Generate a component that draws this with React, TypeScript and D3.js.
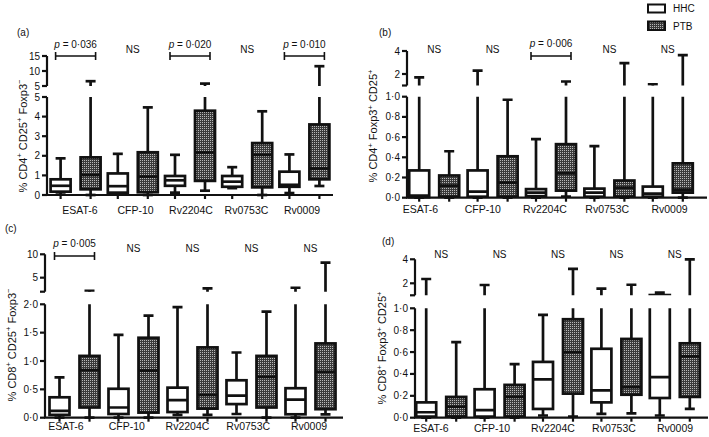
import React from "react";
import * as d3 from "d3";

const categories = ["ESAT-6", "CFP-10", "Rv2204C", "Rv0753C", "Rv0009"];
const groups = ["HHC", "PTB"];

// box stats: [min, q1, median, q3, max]
const hhcA = [[0.02, 0.17, 0.47, 0.8, 1.87], [0.02, 0.12, 0.45, 1.1, 2.1], [0.12, 0.47, 0.75, 0.97, 2.05], [0.35, 0.42, 0.68, 0.97, 1.42], [0.1, 0.42, 0.52, 1.19, 2.07]];
const ptbA = [[0, 0.29, 1.02, 1.92, 6.6], [0, 0.14, 0.94, 2.18, 4.47], [0.22, 0.72, 2.17, 4.3, 5.8], [0, 0.39, 2.05, 2.65, 4.27], [0.46, 0.8, 1.35, 3.6, 11.6]];
const hhcB = [[0, 0.005, 0.02, 0.27, 1.7], [0, 0.01, 0.06, 0.27, 2.3], [0, 0.015, 0.05, 0.085, 0.58], [0, 0.01, 0.05, 0.09, 0.51], [0, 0.01, 0.04, 0.11, 1.1]];
const ptbB = [[0, 0.01, 0.12, 0.22, 0.46], [0, 0.01, 0.15, 0.41, 0.97], [0.01, 0.07, 0.24, 0.53, 1.35], [0, 0.01, 0.1, 0.17, 2.95], [0, 0.05, 0.08, 0.34, 3.65]];
const hhcC = [[0, 0.05, 0.12, 0.36, 0.71], [0, 0.065, 0.18, 0.51, 1.46], [0.05, 0.1, 0.31, 0.53, 1.95], [0.065, 0.24, 0.39, 0.66, 1.15], [0, 0.06, 0.32, 0.52, 2.85]];
const ptbC = [[0, 0.18, 0.84, 1.09, 2.2], [0, 0.09, 0.83, 1.41, 1.8], [0.05, 0.16, 0.4, 1.24, 2.7], [0, 0.18, 0.72, 1.09, 1.87], [0.06, 0.15, 0.81, 1.31, 8.2]];
const hhcD = [[0, 0.01, 0.05, 0.14, 2.36], [0, 0.01, 0.07, 0.26, 1.86], [0.02, 0.08, 0.35, 0.51, 0.94], [0.035, 0.14, 0.25, 0.63, 1.55], [0.02, 0.18, 0.37, 1.02, 1.22]];
const ptbD = [[0, 0.01, 0.1, 0.19, 0.69], [0, 0.01, 0.19, 0.3, 0.49], [0.01, 0.22, 0.6, 0.9, 3.2], [0.04, 0.21, 0.28, 0.72, 1.88], [0.08, 0.19, 0.56, 0.68, 4.0]];

const annotA = ["p = 0·036", "NS", "p = 0·020", "NS", "p = 0·010"];
const annotB = ["NS", "NS", "p = 0·006", "NS", "NS"];
const annotC = ["p = 0·005", "NS", "NS", "NS", "NS"];
const annotD = ["NS", "NS", "NS", "NS", "NS"];

const lowerTicksA = [0, 1, 2, 3, 4, 5];
const upperTicksA = [5, 10, 15];
const upperLabelsA = ["5", "10", "15"];
const lowerTicksB = [0, 0.2, 0.4, 0.6, 0.8, 1.0];
const upperTicksB = [1, 2, 4];
const upperLabelsB = ["", "2", "4"];
const lowerTicksC = [0, 0.5, 1.0, 1.5, 2.0];
const upperTicksC = [2, 5, 10];
const upperLabelsC = ["", "5", "10"];
const lowerTicksD = [0, 0.2, 0.4, 0.6, 0.8, 1.0];
const upperTicksD = [1, 2, 4];
const upperLabelsD = ["", "2", "4"];

const yLabelA = "% CD4{+} CD25{+} Foxp3{−}";
const yLabelB = "% CD4{+} Foxp3{+} CD25{+}";
const yLabelC = "% CD8{+} CD25{+} Foxp3{−}";
const yLabelD = "% CD8{+} Foxp3{+} CD25{+}";

const FONT = "'Liberation Sans', Arial, Helvetica, sans-serif";
const INK = "#111";

const dotFmt = (d: number) => d3.format(".1f")(d).replace(".", "·");
const intFmt = (d: number) => String(d);

type PanelCfg = {
  id: string;
  tag: string; tagX: number; tagY: number;
  axisX: number; xEnd: number; band: [number, number]; labelRange: [number, number];
  y0: number; lowTop: number; upBottom: number; upTop: number;
  lowerDomain: [number, number]; upperDomain: [number, number];
  lowerTicks: number[]; upperTicks: number[]; upperLabels: string[];
  fmt: (d: number) => string;
  hhc: number[][]; ptb: number[][]; annot: string[];
  catY: number;
  nsY: number; pY: number; bracketY: number;
  yLabel: string; yLabelX: number; yLabelY: number;
};

function RichLabel({ text, x, y }: { text: string; x: number; y: number }) {
  const parts: { t: string; sup: boolean }[] = [];
  const re = /\{([^}]*)\}|([^{]+)/g;
  let m: RegExpExecArray | null;
  while ((m = re.exec(text))) {
    if (m[1] !== undefined) parts.push({ t: m[1], sup: true });
    else parts.push({ t: m[2], sup: false });
  }
  let prevSup = false;
  return (
    <text x={x} y={y} transform={`rotate(-90 ${x} ${y})`} textAnchor="middle" fontFamily={FONT} fontSize={11} fill={INK}>
      {parts.map((p, i) => {
        let dy = 0;
        if (p.sup && !prevSup) dy = -4.5;
        if (!p.sup && prevSup) dy = 4.5;
        prevSup = p.sup;
        return (
          <tspan key={i} dy={dy} fontSize={p.sup ? 7.5 : 11}>{p.t}</tspan>
        );
      })}
    </text>
  );
}

function Boxes({ cfg, scale, xOf, lo, hi }: { cfg: PanelCfg; scale: d3.ScaleLinear<number, number>; xOf: (i: number, j: number) => number; lo: number; hi: number }) {
  const bw = 20, cw = 10;
  const series = [cfg.hhc, cfg.ptb];
  const inside = (v: number) => v >= lo - 1e-9 && v <= hi + 1e-9;
  return (
    <g>
      {series.map((ser, j) =>
        ser.map((s, i) => {
          const cx = xOf(i, j);
          const [mn, q1, md, q3, mx] = s.map((v) => scale(v));
          const boxVisible = s[3] > lo && s[1] < hi;
          return (
            <g key={`${j}-${i}`} stroke={INK} strokeWidth={2.7}>
              {s[1] > lo && s[0] < hi && <line x1={cx} x2={cx} y1={mn} y2={q1} />}
              {s[4] > lo && s[3] < hi && <line x1={cx} x2={cx} y1={q3} y2={mx} />}
              {inside(s[0]) && <line x1={cx - cw / 2} x2={cx + cw / 2} y1={mn} y2={mn} />}
              {inside(s[4]) && <line x1={cx - cw / 2} x2={cx + cw / 2} y1={mx} y2={mx} />}
              {boxVisible && (
                <rect x={cx - bw / 2} y={q3} width={bw} height={Math.max(0.5, q1 - q3)} fill={j === 0 ? "#fff" : "url(#dots)"} />
              )}
              {inside(s[2]) && <line x1={cx - bw / 2} x2={cx + bw / 2} y1={md} y2={md} />}
            </g>
          );
        })
      )}
    </g>
  );
}

function Panel({ cfg }: { cfg: PanelCfg }) {
  const band = d3.scaleBand<string>().domain(categories).range(cfg.band);
  const labelX = d3.scalePoint<string>().domain(categories).range(cfg.labelRange);
  const gc = (i: number) => (band(categories[i]) as number) + band.bandwidth() / 2;
  const xOf = (i: number, j: number) => gc(i) + (j === 0 ? -15 : 15);
  const lower = d3.scaleLinear().domain(cfg.lowerDomain).range([cfg.y0, cfg.lowTop]);
  const upper = d3.scaleLinear().domain(cfg.upperDomain).range([cfg.upBottom, cfg.upTop]);
  const ax = cfg.axisX;
  return (
    <g>
      <defs>
        <clipPath id={`low-${cfg.id}`}>
          <rect x={ax} y={cfg.lowTop} width={cfg.xEnd - ax + 10} height={cfg.y0 - cfg.lowTop + 8} />
        </clipPath>
        <clipPath id={`up-${cfg.id}`}>
          <rect x={ax} y={cfg.upTop - 10} width={cfg.xEnd - ax + 10} height={cfg.upBottom - cfg.upTop + 10} />
        </clipPath>
      </defs>
      <text x={cfg.tagX} y={cfg.tagY} fontFamily={FONT} fontSize={10} fill={INK}>{cfg.tag}</text>
      <g clipPath={`url(#low-${cfg.id})`}>
        <Boxes cfg={cfg} scale={lower} xOf={xOf} lo={cfg.lowerDomain[0]} hi={cfg.lowerDomain[1]} />
      </g>
      <g clipPath={`url(#up-${cfg.id})`}>
        <Boxes cfg={cfg} scale={upper} xOf={xOf} lo={cfg.upperDomain[0]} hi={cfg.upperDomain[1]} />
      </g>
      {/* axes */}
      <g stroke={INK} strokeWidth={2.2}>
        <line x1={ax} x2={ax} y1={cfg.y0} y2={cfg.lowTop} />
        <line x1={ax} x2={ax} y1={cfg.upBottom} y2={cfg.upTop} />
        {cfg.lowerTicks.map((t) => (
          <line key={`lt${t}`} x1={ax - 5} x2={ax} y1={lower(t)} y2={lower(t)} />
        ))}
        {cfg.upperTicks.map((t) => (
          <line key={`ut${t}`} x1={ax - 5} x2={ax} y1={upper(t)} y2={upper(t)} />
        ))}
        <line x1={ax - 1} x2={cfg.xEnd} y1={cfg.y0} y2={cfg.y0} />
        {categories.map((c, i) =>
          groups.map((g, j) => (
            <line key={`xt${i}${j}`} x1={xOf(i, j)} x2={xOf(i, j)} y1={cfg.y0} y2={cfg.y0 + 4} />
          ))
        )}
      </g>
      <g fontFamily={FONT} fontSize={10} fill={INK} textAnchor="end">
        {cfg.lowerTicks.map((t) => (
          <text key={`ll${t}`} x={ax - 7} y={lower(t)} dy="0.35em">{cfg.fmt(t)}</text>
        ))}
        {cfg.upperTicks.map((t, k) => (
          <text key={`ul${t}`} x={ax - 7} y={upper(t)} dy="0.35em">{cfg.upperLabels[k]}</text>
        ))}
      </g>
      {/* category labels */}
      <g fontFamily={FONT} fontSize={10.5} fill={INK} textAnchor="middle">
        {categories.map((c) => (
          <text key={c} x={labelX(c) as number} y={cfg.catY}>{c}</text>
        ))}
      </g>
      {/* annotations */}
      <g fontFamily={FONT} fontSize={10} fill={INK} textAnchor="middle">
        {cfg.annot.map((a, i) => {
          const x = gc(i);
          if (a === "NS") return <text key={i} x={x} y={cfg.nsY}>NS</text>;
          return (
            <g key={i}>
              <text x={x} y={cfg.pY}>
                <tspan fontStyle="italic">p</tspan>
                <tspan>{a.slice(1)}</tspan>
              </text>
              <g stroke={INK} strokeWidth={1.6}>
                <line x1={x - 20} x2={x + 20} y1={cfg.bracketY} y2={cfg.bracketY} />
                <line x1={x - 20} x2={x - 20} y1={cfg.bracketY - 4} y2={cfg.bracketY + 4} />
                <line x1={x + 20} x2={x + 20} y1={cfg.bracketY - 4} y2={cfg.bracketY + 4} />
              </g>
            </g>
          );
        })}
      </g>
      <RichLabel text={cfg.yLabel} x={cfg.yLabelX} y={cfg.yLabelY} />
    </g>
  );
}

const panels: PanelCfg[] = [
  {
    id: "a", tag: "(a)", tagX: 17, tagY: 36,
    axisX: 47, xEnd: 333, band: [47, 333], labelRange: [80, 302],
    y0: 195, lowTop: 97, upBottom: 86, upTop: 56,
    lowerDomain: [0, 5], upperDomain: [5, 15],
    lowerTicks: lowerTicksA, upperTicks: upperTicksA, upperLabels: upperLabelsA, fmt: intFmt,
    hhc: hhcA, ptb: ptbA, annot: annotA,
    catY: 213.5, nsY: 53, pY: 47.5, bracketY: 56,
    yLabel: yLabelA, yLabelX: 26.5, yLabelY: 136,
  },
  {
    id: "b", tag: "(b)", tagX: 379, tagY: 36,
    axisX: 407, xEnd: 707, band: [405, 697], labelRange: [420.5, 669.5],
    y0: 197.7, lowTop: 96.7, upBottom: 85.5, upTop: 51,
    lowerDomain: [0, 1], upperDomain: [1, 4],
    lowerTicks: lowerTicksB, upperTicks: upperTicksB, upperLabels: upperLabelsB, fmt: dotFmt,
    hhc: hhcB, ptb: ptbB, annot: annotB,
    catY: 212.5, nsY: 53, pY: 47, bracketY: 56,
    yLabel: yLabelB, yLabelX: 377, yLabelY: 126,
  },
  {
    id: "c", tag: "(c)", tagX: 5, tagY: 232,
    axisX: 45, xEnd: 343, band: [45, 340], labelRange: [66, 309],
    y0: 417.7, lowTop: 304.3, upBottom: 291.7, upTop: 254.3,
    lowerDomain: [0, 2], upperDomain: [2, 10],
    lowerTicks: lowerTicksC, upperTicks: upperTicksC, upperLabels: upperLabelsC, fmt: dotFmt,
    hhc: hhcC, ptb: ptbC, annot: annotC,
    catY: 430, nsY: 252, pY: 247, bracketY: 256,
    yLabel: yLabelC, yLabelX: 15.5, yLabelY: 345,
  },
  {
    id: "d", tag: "(d)", tagX: 382, tagY: 245,
    axisX: 415, xEnd: 708, band: [412, 704], labelRange: [431, 675],
    y0: 417.7, lowTop: 308.3, upBottom: 295.3, upTop: 259.3,
    lowerDomain: [0, 1], upperDomain: [1, 4],
    lowerTicks: lowerTicksD, upperTicks: upperTicksD, upperLabels: upperLabelsD, fmt: dotFmt,
    hhc: hhcD, ptb: ptbD, annot: annotD,
    catY: 431.5, nsY: 258, pY: 252, bracketY: 260,
    yLabel: yLabelD, yLabelX: 386, yLabelY: 348,
  },
];

export default function App() {
  return (
    <svg width={709} height={437} style={{ position: "absolute", left: 0, top: 0, background: "#fff" }}>
      <defs>
        <pattern id="dots" width={2} height={2} patternUnits="userSpaceOnUse">
          <rect width={2} height={2} fill="#3a3a3a" />
          <rect width={1} height={1} fill="#b8b8b8" />
        </pattern>
      </defs>
      {panels.map((p) => (
        <Panel key={p.id} cfg={p} />
      ))}
      {/* legend */}
      <g>
        <rect x={648} y={4.5} width={17} height={8} fill="#fff" stroke={INK} strokeWidth={2} />
        <rect x={648} y={21.5} width={17} height={8.5} fill="url(#dots)" stroke={INK} strokeWidth={2} />
        <text x={673} y={12} fontFamily={FONT} fontSize={10} fill={INK}>{groups[0]}</text>
        <text x={673} y={30} fontFamily={FONT} fontSize={10} fill={INK}>{groups[1]}</text>
      </g>
    </svg>
  );
}
